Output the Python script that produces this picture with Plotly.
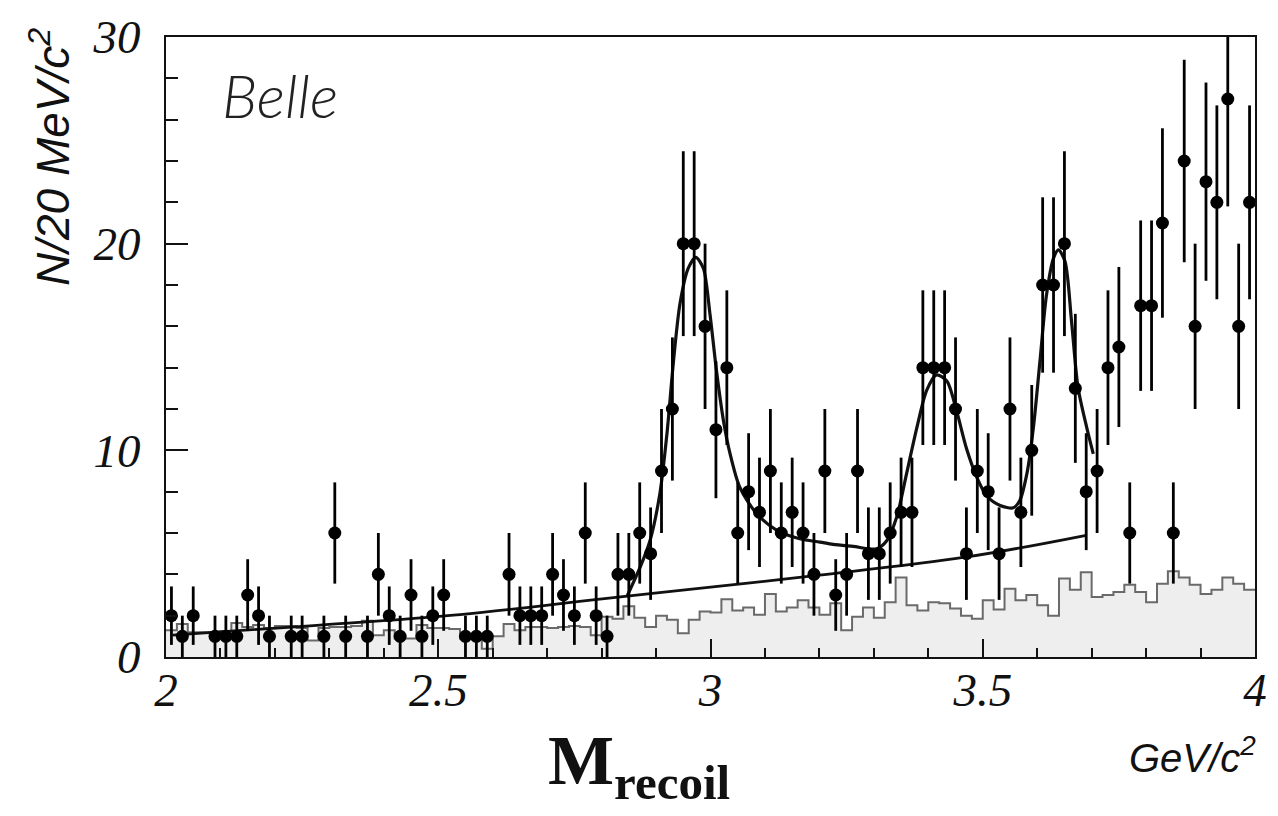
import numpy as np
import plotly.graph_objects as go

# Recoil-mass spectrum binning: 100 bins of 20 MeV/c^2 from 2 to 4 GeV/c^2
M_LO, BIN_W, N_BINS = 2.0, 0.02, 100

# Observed events per bin
counts = [2, 1, 2, 0, 1, 1, 1, 3, 2, 1,
          0, 1, 1, 0, 1, 6, 1, 0, 1, 4,
          2, 1, 3, 1, 2, 3, 0, 1, 1, 1,
          0, 4, 2, 2, 2, 4, 3, 2, 6, 2,
          1, 4, 4, 6, 5, 9, 12, 20, 20, 16,
          11, 14, 6, 8, 7, 9, 6, 7, 6, 4,
          9, 3, 4, 9, 5, 5, 6, 7, 7, 14,
          14, 14, 12, 5, 9, 8, 5, 12, 7, 10,
          18, 18, 20, 13, 8, 9, 14, 15, 6, 17,
          17, 21, 6, 24, 16, 23, 22, 27, 16, 22]

# Sideband / background estimate per bin (shaded histogram)
sideband = [1.3, 1.6, 1.2, 1.2, 1.2, 1.25, 1.65, 1.45, 1.55, 1.4,
            1.5, 1.5, 1.4, 0.8, 1.4, 1.45, 1.45, 1.5, 1.75, 1.05,
            1.3, 0.9, 0.9, 1.55, 1.4, 1.4, 1.35, 0.9, 0.9, 0.4,
            1.0, 1.6, 1.3, 1.45, 1.45, 1.4, 1.45, 1.5, 1.45, 1.05,
            1.95, 1.85, 2.45, 1.9, 1.45, 2.0, 1.8, 1.15, 1.8, 2.2,
            2.15, 2.8, 2.25, 2.4, 2.05, 3.05, 2.2, 2.4, 2.75, 2.4,
            2.05, 2.6, 1.3, 1.95, 2.4, 1.9, 2.65, 3.85, 2.5, 2.25,
            2.65, 2.6, 2.35, 2.0, 1.85, 2.75, 2.3, 3.3, 2.75, 3.0,
            2.5, 2.0, 3.8, 3.25, 4.1, 2.9, 3.0, 3.15, 3.5, 3.15,
            2.65, 3.55, 4.15, 3.85, 3.5, 3.05, 3.25, 3.85, 3.55, 3.25]

# Fitted background component
bkg_m = [2.012, 2.264, 2.54, 2.78, 3.06, 3.2, 3.47, 3.69]
bkg_n = [1.06, 1.51, 2.05, 2.75, 3.55, 3.96, 4.84, 5.89]

# Total fit (signal peaks + background)
fit_m = [2.846, 2.871, 2.889, 2.907, 2.920, 2.932, 2.944, 2.959, 2.973, 2.987,
         2.999, 3.011, 3.024, 3.036, 3.054, 3.085, 3.122, 3.164, 3.201, 3.225,
         3.262, 3.305, 3.324, 3.342, 3.360, 3.379, 3.397, 3.415, 3.434, 3.452,
         3.470, 3.489, 3.507, 3.532, 3.556, 3.568, 3.581, 3.593, 3.605, 3.617,
         3.630, 3.639, 3.651, 3.663, 3.675, 3.691, 3.703]
fit_n = [2.9, 4.36, 5.64, 7.9, 10.8, 14.3, 17.1, 18.8, 19.34, 18.8,
         16.6, 13.85, 11.4, 9.83, 8.2, 6.93, 6.13, 5.72, 5.56, 5.45,
         5.35, 5.24, 5.64, 6.77, 8.86, 11.1, 12.9, 13.65, 13.36, 11.9,
         10.1, 8.7, 7.8, 7.33, 7.22, 7.57, 8.86, 11.1, 14.3, 17.5,
         19.3, 19.7, 19.15, 16.26, 13.04, 11.1, 9.83]

x_ticks = [2, 2.5, 3, 3.5, 4]
y_ticks = [0, 10, 20, 30]

edges = M_LO + BIN_W * np.arange(N_BINS + 1)
centers = M_LO + BIN_W * (np.arange(N_BINS) + 0.5)
counts_arr = np.array(counts, dtype=float)
nonzero = counts_arr > 0

fig = go.Figure()

# Shaded sideband histogram
fig.add_trace(go.Scatter(
    x=edges, y=list(sideband) + [sideband[-1]],
    mode="lines", line=dict(shape="hv", color="#6a6a6a", width=2),
    fill="tozeroy", fillcolor="#eeeeee", hoverinfo="skip", showlegend=False))

# Background component of the fit
fig.add_trace(go.Scatter(
    x=bkg_m, y=bkg_n, mode="lines",
    line=dict(color="#111111", width=2.8, shape="spline", smoothing=1.0),
    showlegend=False))

# Total fit curve
fig.add_trace(go.Scatter(
    x=fit_m, y=fit_n, mode="lines",
    line=dict(color="#111111", width=3.2, shape="spline", smoothing=0.8),
    showlegend=False))

# Data points with Poisson errors
fig.add_trace(go.Scatter(
    x=centers[nonzero], y=counts_arr[nonzero], mode="markers",
    marker=dict(color="#000000", size=13, symbol="circle"),
    error_y=dict(type="data", array=np.sqrt(counts_arr[nonzero]),
                 color="#000000", thickness=2.8, width=0),
    showlegend=False))

serif_it = dict(family="Liberation Serif", size=47, color="#111111", style="italic")

fig.update_xaxes(
    range=[2, 4], tickvals=x_ticks, ticktext=[f"{v:g}" for v in x_ticks],
    ticks="inside", ticklen=18, tickwidth=2, tickcolor="#111111",
    minor=dict(dtick=0.1, ticks="inside", ticklen=9, tickwidth=2, tickcolor="#111111"),
    showline=True, linecolor="#111111", linewidth=2, mirror=True,
    showgrid=False, zeroline=False, tickfont=serif_it, ticklabelstandoff=-9)

fig.update_yaxes(
    range=[0, 30], tickvals=y_ticks, ticktext=[str(v) for v in y_ticks],
    ticks="inside", ticklen=22, tickwidth=2, tickcolor="#111111",
    minor=dict(dtick=2, ticks="inside", ticklen=12, tickwidth=2, tickcolor="#111111"),
    showline=True, linecolor="#111111", linewidth=2, mirror=True,
    showgrid=False, zeroline=False, tickfont=serif_it, ticklabelstandoff=14)

# Plot area spans 166..1255 px horizontally and 37..657 px vertically
L, R, T, B = 166, 1255, 37, 657


def px(xpix):
    return (xpix - L) / (R - L)


def py(ypix):
    return (B - ypix) / (B - T)


annotations = [
    dict(text="N/20 MeV/c<sup>2</sup>", textangle=-90,
         x=px(50), y=py(26), xanchor="center", yanchor="top",
         font=dict(family="Liberation Sans", size=46, color="#111111", style="italic")),
    dict(text="Belle", x=px(220), y=py(95), xanchor="left", yanchor="middle",
         font=dict(family="Lato", size=60, color="#222222", style="italic", weight=300)),
    dict(text="<b>M</b><sub><b>recoil</b></sub>", x=px(546), y=py(720),
         xanchor="left", yanchor="top",
         font=dict(family="Liberation Serif", size=70, color="#111111")),
    dict(text="GeV/c<sup>2</sup>", x=px(1258), y=py(728), xanchor="right", yanchor="top",
         font=dict(family="Liberation Sans", size=40, color="#111111", style="italic")),
]
for a in annotations:
    a.update(xref="paper", yref="paper", showarrow=False)

fig.update_layout(
    width=1278, height=816,
    margin=dict(l=L, r=1278 - R, t=T, b=816 - B),
    paper_bgcolor="white", plot_bgcolor="white",
    annotations=annotations, showlegend=False)

fig.write_html("out.html")
